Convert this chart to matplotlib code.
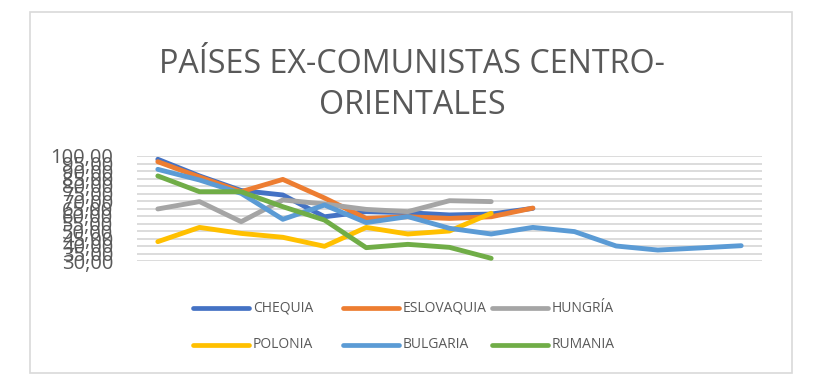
import matplotlib.pyplot as plt
from matplotlib.lines import Line2D
from matplotlib.patches import Rectangle
import numpy as np

# series values (15 periods, not all countries have all)
chequia = [97.8, 86.7, 77.0, 74.0, 59.5, 62.9, 62.2, 60.7, 61.3, 65.1]
eslovaquia = [96.2, 86.0, 76.2, 84.4, 72.0, 58.4, 59.5, 58.4, 59.5, 65.3]
hungria = [64.7, 69.6, 56.2, 70.7, 68.0, 64.4, 62.9, 70.2, 69.6]
polonia = [42.9, 52.4, 48.4, 45.8, 39.8, 52.4, 48.0, 50.0, 61.8]
bulgaria = [91.1, 84.0, 75.1, 57.8, 67.3, 55.6, 59.6, 51.8, 48.0, 52.4,
            49.6, 40.0, 37.3, 38.7, 40.2]
rumania = [86.7, 76.2, 76.2, 66.2, 57.3, 38.9, 41.1, 39.1, 31.8]

names = ["CHEQUIA", "ESLOVAQUIA", "HUNGRÍA", "POLONIA", "BULGARIA", "RUMANIA"]
series = [chequia, eslovaquia, hungria, polonia, bulgaria, rumania]
colors = ["#4472C4", "#ED7D31", "#A5A5A5", "#FFC000", "#5B9BD5", "#70AD47"]

yticks = np.arange(30, 101, 5)
n_periods = 15

W, H = 819, 385
fig = plt.figure(figsize=(W / 100, H / 100), dpi=100)

# chart border
fig.add_artist(Rectangle((30 / W, 1 - 373 / H), 762 / W, 361 / H,
                         transform=fig.transFigure, fill=False,
                         edgecolor="#D9D9D9", linewidth=1.2))

ax = fig.add_axes([137 / W, 1 - 261 / H, 625 / W, 105 / H])
for name, vals, col in zip(names, series, colors):
    ax.plot(range(len(vals)), vals, color=col, linewidth=3.5,
            solid_capstyle="round", solid_joinstyle="round", label=name)

ax.set_xlim(-0.5, n_periods - 0.5)
ax.set_ylim(30, 100)
ax.set_yticks(yticks)
ax.set_yticklabels([f"{v:.2f}".replace(".", ",") for v in yticks],
                   fontsize=14.5, color="#595959", family="Open Sans")
ax.tick_params(axis="y", length=0, pad=17)
ax.set_xticks([])
ax.grid(axis="y", color="#D9D9D9", linewidth=1.3)
ax.set_axisbelow(True)
for s in ax.spines.values():
    s.set_visible(False)

# title
fig.text(412 / W, 1 - 73 / H, "PAÍSES EX-COMUNISTAS CENTRO-", ha="center",
         va="baseline", fontsize=23.2, color="#595959", family="Open Sans")
fig.text(412 / W, 1 - 114 / H, "ORIENTALES", ha="center",
         va="baseline", fontsize=23.2, color="#595959", family="Open Sans")

# legend, 3 columns x 2 rows
col_x = [193, 343, 492]
row_y = [308, 345]
for i, (name, col) in enumerate(zip(names, colors)):
    x0 = col_x[i % 3]
    y0 = row_y[i // 3]
    fig.add_artist(Line2D([x0 / W, (x0 + 56) / W], [1 - y0 / H, 1 - y0 / H],
                          transform=fig.transFigure, color=col, linewidth=3.4,
                          solid_capstyle="round"))
    fig.text((x0 + 60) / W, 1 - y0 / H, name, ha="left", va="center",
             fontsize=10, color="#595959", family="Open Sans")

fig.savefig("out.png", dpi=100)
